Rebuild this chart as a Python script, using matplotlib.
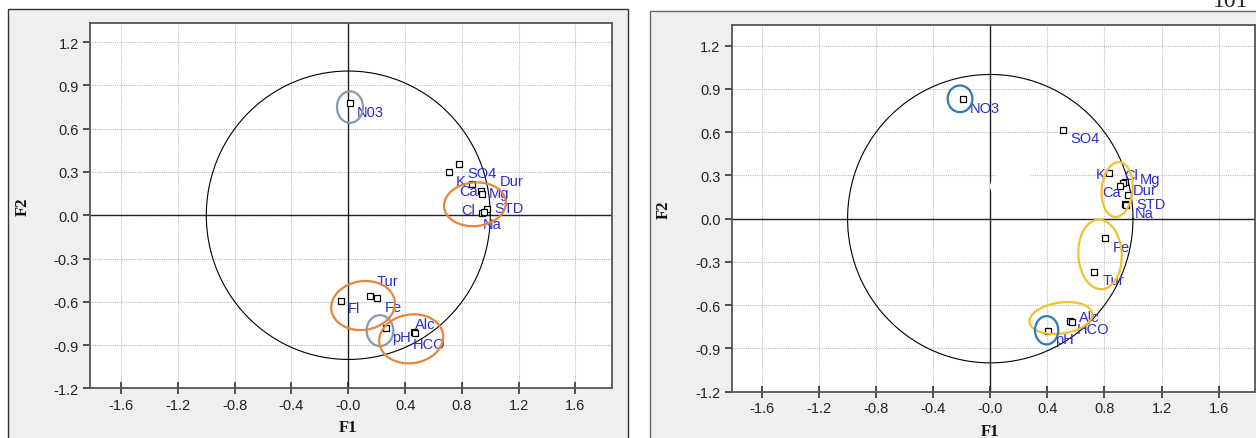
import matplotlib
matplotlib.use("Agg")
import matplotlib.pyplot as plt
from matplotlib.patches import Ellipse, Rectangle
from matplotlib.transforms import blended_transform_factory
import numpy as np

# ---------------- data ----------------
x_ticks = [-1.6, -1.2, -0.8, -0.4, 0.0, 0.4, 0.8, 1.2, 1.6]
x_tick_labels = ["-1.6", "-1.2", "-0.8", "-0.4", "-0.0", "0.4", "0.8", "1.2", "1.6"]
y_ticks = [1.2, 0.9, 0.6, 0.3, 0.0, -0.3, -0.6, -0.9, -1.2]
y_tick_labels = ["1.2", "0.9", "0.6", "0.3", "0.0", "-0.3", "-0.6", "-0.9", "-1.2"]

# Left panel
left_vars = ["N03", "SO4", "K", "Ca", "Mg", "Dur", "STD", "Cl", "Na",
             "Tur", "Fl", "Fe", "pH", "Alc", "HCO"]
left_f1 = [0.012, 0.782, 0.709, 0.869, 0.935, 0.940, 0.975, 0.939, 0.955,
           0.155, -0.054, 0.204, 0.263, 0.460, 0.470]
left_f2 = [0.777, 0.354, 0.301, 0.216, 0.170, 0.150, 0.041, 0.014, 0.020,
           -0.559, -0.593, -0.575, -0.782, -0.809, -0.815]

# Right panel
right_vars = ["NO3", "SO4", "K", "Cl", "Mg", "Ca", "Dur", "STD", "Na",
              "Fe", "Tur", "Alc", "HCO", "pH"]
right_f1 = [-0.194, 0.509, 0.832, 0.944, 0.928, 0.909, 0.967, 0.944, 0.950,
            0.802, 0.727, 0.559, 0.570, 0.406]
right_f2 = [0.829, 0.616, 0.319, 0.254, 0.245, 0.224, 0.161, 0.104, 0.095,
            -0.134, -0.369, -0.709, -0.715, -0.778]

# ---------------- layout / style (label offsets in pixels: dx right, dy down) ----
left_label_off = [(7, 8.4), (8.4, 9.3), (7, 9), (-12.4, 7), (8, 2), (17.5, -13),
                  (8, -1), (-20, -3), (-1.6, 12), (6.4, -14.7), (7, 7.7),
                  (7.7, 8.7), (6.6, 8.7), (1.3, -8.3), (-2.7, 11.5)]
left_label_ha = ["left"] * len(left_vars)

right_label_off = [(7.3, 9), (7.7, 8.3), (-4, 1), (-1, -7), (17, -4), (-17.7, 5.6),
                   (4.4, -5), (11.7, 0), (9, 7.7), (8, 9), (8.3, 8.4),
                   (9.3, -4), (5, 7.5), (6.7, 8.4)]
right_label_ha = ["left", "left", "right"] + ["left"] * (len(right_vars) - 3)

ORANGE = "#e8853d"
GREYBLUE = "#8899ad"
BLUE = "#2f7bb6"
YELLOW = "#f2c12e"

# grouping ellipses: (cx, cy, w, h, angle, color)
left_groups = [(0.012, 0.750, 0.183, 0.219, 0, GREYBLUE),
               (0.892, 0.076, 0.437, 0.303, 5, ORANGE),
               (0.104, -0.626, 0.451, 0.338, 8, ORANGE),
               (0.223, -0.800, 0.188, 0.214, 0, GREYBLUE),
               (0.443, -0.857, 0.453, 0.338, 8, ORANGE)]
right_groups = [(-0.212, 0.831, 0.173, 0.185, 0, BLUE),
                (0.889, 0.202, 0.217, 0.381, -5, YELLOW),
                (0.769, -0.248, 0.304, 0.483, 3, YELLOW),
                (0.495, -0.689, 0.444, 0.215, 8, YELLOW),
                (0.395, -0.774, 0.163, 0.196, 0, BLUE)]

LABEL_COLOR = "#2b2bd6"
TICK_FONT = "Liberation Sans"
AXIS_FONT = "Liberation Serif"
FS = 10.5

W, H = 1256, 439
fig = plt.figure(figsize=(W / 100, H / 100), dpi=100)
fig.patch.set_facecolor("white")

# outer grey frames
fig.add_artist(Rectangle((8 / W, -0.05), 620 / W, 1 - 10 / H + 0.05,
                         transform=fig.transFigure, facecolor="#efefef",
                         edgecolor="#333333", linewidth=1.0, zorder=0))
fig.add_artist(Rectangle((650 / W, -0.05), 0.6, 1 - 12 / H + 0.05,
                         transform=fig.transFigure, facecolor="#efefef",
                         edgecolor="#666666", linewidth=1.0, zorder=0))

# cropped page number at top-right
fig.text(1213 / W, 1 - 7 / H, "101", fontsize=17, family=AXIS_FONT,
         ha="left", va="baseline", color="#222222")


def draw_panel(rect_px, xlim, ylim, names, f1, f2, offs, has, groups):
    x0, y0, x1, y1 = rect_px
    ax = fig.add_axes([x0 / W, 1 - y1 / H, (x1 - x0) / W, (y1 - y0) / H])
    ax.set_facecolor("white")
    ax.set_xlim(*xlim)
    ax.set_ylim(*ylim)
    ax.set_xticks(x_ticks)
    ax.set_xticklabels(x_tick_labels, family=TICK_FONT, fontsize=FS, color="#222222")
    ax.set_yticks(y_ticks)
    ax.set_yticklabels(y_tick_labels, family=TICK_FONT, fontsize=FS, color="#222222")
    ax.tick_params(axis="x", direction="inout", length=8, width=1.2, color="#333333", pad=3)
    ax.tick_params(axis="y", direction="out", length=5, width=1.2, color="#333333", pad=3)
    ax.grid(True, color="#bdbdbd", linestyle=(0, (1, 1)), linewidth=0.8)
    ax.set_axisbelow(True)
    for s in ax.spines.values():
        s.set_color("#555555")
        s.set_linewidth(1.3)
    ax.axhline(0, color="#222222", linewidth=1.0, zorder=1.5)
    ax.axvline(0, color="#222222", linewidth=1.0, zorder=1.5)
    t = np.linspace(0, 2 * np.pi, 400)
    ax.plot(np.cos(t), np.sin(t), color="black", linewidth=0.8, zorder=2)
    ax.plot(f1, f2, linestyle="none", marker="s", markersize=4.2,
            markerfacecolor="white", markeredgecolor="black",
            markeredgewidth=0.9, zorder=4)
    for name, x, y, (dx, dy), ha in zip(names, f1, f2, offs, has):
        ax.annotate(name, (x, y), xytext=(dx * 0.72, -dy * 0.72),
                    textcoords="offset points", ha=ha, va="center",
                    fontsize=FS, family=TICK_FONT, color=LABEL_COLOR, zorder=5)
    for cx, cy, w, h, ang, col in groups:
        ax.add_patch(Ellipse((cx, cy), w, h, angle=ang, fill=False,
                             edgecolor=col, linewidth=1.6, zorder=6))
    tr = blended_transform_factory(ax.transData, ax.transAxes)
    ax.text(0.0, -0.106, "F1", transform=tr, ha="center", va="center",
            fontsize=12, fontweight="bold", family=AXIS_FONT, color="#111111")
    ax.text(-0.129, 0.5, "F2", transform=ax.transAxes, ha="center", va="center",
            rotation=90, fontsize=12, fontweight="bold", family=AXIS_FONT,
            color="#111111")
    return ax


axL = draw_panel((90, 24, 611.7, 389.3), (-1.819, 1.855), (-1.2, 1.333),
                 left_vars, left_f1, left_f2, left_label_off, left_label_ha,
                 left_groups)
axR = draw_panel((731.7, 26, 1255, 392.7), (-1.812, 1.855), (-1.2, 1.343),
                 right_vars, right_f1, right_f2, right_label_off, right_label_ha,
                 right_groups)

# white smudge present in the right panel of the reference
axR.add_patch(Ellipse((0.163, 0.225), 0.33, 0.215, facecolor="white",
                      edgecolor="none", zorder=3))

fig.savefig("out.png", dpi=100)
